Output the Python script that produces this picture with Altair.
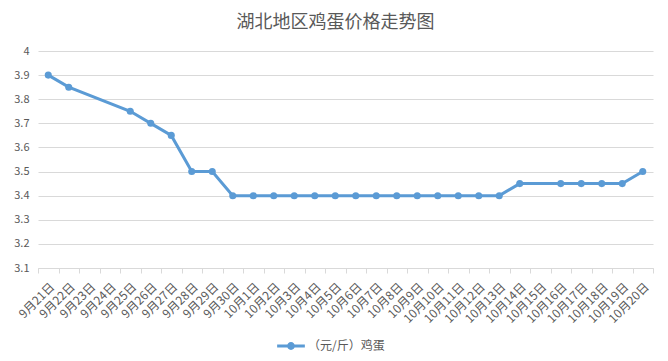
import altair as alt
import pandas as pd

dates = ["9月21日", "9月22日", "9月23日", "9月24日", "9月25日", "9月26日", "9月27日",
         "9月28日", "9月29日", "9月30日", "10月1日", "10月2日", "10月3日", "10月4日",
         "10月5日", "10月6日", "10月7日", "10月8日", "10月9日", "10月10日", "10月11日",
         "10月12日", "10月13日", "10月14日", "10月15日", "10月16日", "10月17日",
         "10月18日", "10月19日", "10月20日"]
prices = [3.9, 3.85, None, None, 3.75, 3.7, 3.65, 3.5, 3.5, 3.4,
          3.4, 3.4, 3.4, 3.4, 3.4, 3.4, 3.4, 3.4, 3.4, 3.4, 3.4, 3.4, 3.4,
          3.45, None, 3.45, 3.45, 3.45, 3.45, 3.5]
series_name = "（元/斤）鸡蛋"
y_ticks = [3.1, 3.2, 3.3, 3.4, 3.5, 3.6, 3.7, 3.8, 3.9, 4.0]

df = pd.DataFrame({"date": dates, "price": prices})
df["series"] = series_name
df = df.dropna()

FONT = "Noto Sans CJK SC"
GREY = "#595959"
BLUE = "#5b9bd5"

legend_symbol = ("M-1.6,-0.16 L1.6,-0.16 L1.6,0.16 L-1.6,0.16 Z "
                 "M-0.45,0 A0.45,0.45 0 1,1 0.45,0 A0.45,0.45 0 1,1 -0.45,0 Z")

chart = alt.Chart(df).mark_line(
    strokeWidth=3,
    point=alt.OverlayMarkDef(size=50, filled=True, opacity=1),
).encode(
    x=alt.X("date:N", sort=dates,
            scale=alt.Scale(type="band", domain=dates, paddingInner=0, paddingOuter=0),
            axis=alt.Axis(title=None, labelAngle=-45, tickBand="extent", grid=False,
                          domainColor="#d9d9d9", tickColor="#d9d9d9", tickSize=5,
                          labelFont=FONT, labelFontSize=12, labelColor=GREY,
                          labelPadding=8, labelOverlap=False)),
    y=alt.Y("price:Q",
            scale=alt.Scale(domain=[3.1, 4.0], nice=False, zero=False),
            axis=alt.Axis(title=None, values=y_ticks, format=".1~f", domain=False,
                          ticks=False, gridColor="#d9d9d9", labelFont=FONT,
                          labelFontSize=11, labelColor=GREY, labelPadding=9)),
    color=alt.Color("series:N",
                    scale=alt.Scale(range=[BLUE]),
                    legend=alt.Legend(title=None, orient="none", legendX=244, legendY=286,
                                      symbolType=legend_symbol, symbolSize=300,
                                      symbolStrokeWidth=0, symbolFillColor=BLUE,
                                      labelFont=FONT, labelFontSize=12,
                                      labelColor=GREY, labelOffset=8)),
).properties(
    width=615,
    height=217,
    autosize=alt.AutoSizeParams(type="none"),
    padding={"left": 30, "top": 43, "right": 7, "bottom": 85},
    title=alt.TitleParams("湖北地区鸡蛋价格走势图", font=FONT, fontSize=18,
                          fontWeight="normal", color=GREY, anchor="middle",
                          frame="group", dx=-10, offset=13),
).configure_view(stroke=None)

chart.save("out.html", embed_options={"renderer": "svg", "actions": False})
